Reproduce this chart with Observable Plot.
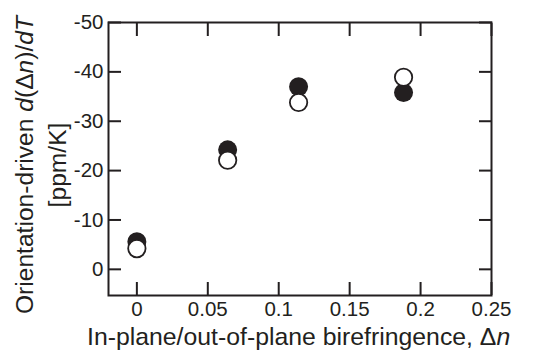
<!DOCTYPE html>
<html>
<head>
<meta charset="utf-8">
<script src="https://cdn.jsdelivr.net/npm/d3@7"></script>
<script src="https://cdn.jsdelivr.net/npm/@observablehq/plot@0.6"></script>
<style>
  body { margin: 0; background: #fff; }
  #wrap { position: relative; width: 536px; height: 354px; font-family: "Liberation Sans", Arial, sans-serif; color: #231f20; }
  #chart svg text { font-size: 20.5px !important; font-family: "Liberation Sans", Arial, sans-serif; }
  #xtitle { position: absolute; left: 87px; top: 325px; font-size: 24.8px; white-space: nowrap; line-height: 1; }
  #ytitle { position: absolute; left: 41px; top: 165px; width: 340px; transform: translate(-50%, -50%) rotate(-90deg); text-align: center; font-size: 24.6px; line-height: 33px; white-space: nowrap; }
</style>
</head>
<body>
<div id="wrap">
  <div id="chart"></div>
  <div id="xtitle">In-plane/out-of-plane birefringence, Δ<i>n</i></div>
  <div id="ytitle">Orientation-driven <i>d</i>(Δ<i>n</i>)/<i>dT</i><br>[ppm/K]</div>
</div>
<script>
const birefringence = [0, 0.064, 0.114, 0.188];
const filledValues = [-5.6, -24.2, -37.0, -35.8];
const openValues = [-4.2, -22.1, -33.8, -38.9];
const xTicks = [0, 0.05, 0.1, 0.15, 0.2, 0.25];
const xTickLabels = ["0", "0.05", "0.1", "0.15", "0.2", "0.25"];
const yTicks = [-50, -40, -30, -20, -10, 0];
const yTickLabels = ["-50", "-40", "-30", "-20", "-10", "0"];

const filled = birefringence.map((x, i) => ({x, y: filledValues[i]}));
const open = birefringence.map((x, i) => ({x, y: openValues[i]}));
const ink = "#231f20";
const xFmt = d => xTickLabels[xTicks.findIndex(t => Math.abs(t - d) < 1e-9)] ?? "";
const yFmt = d => yTickLabels[yTicks.indexOf(d)] ?? "";
const none = () => "";
const T = 13;

const chart = Plot.plot({
  width: 536,
  height: 354,
  marginLeft: 108,
  marginRight: 45,
  marginTop: 22,
  marginBottom: 59,
  style: {fontFamily: "'Liberation Sans', Arial, sans-serif", color: ink, background: "#fff"},
  x: {domain: [-0.02, 0.25]},
  y: {domain: [-50, 5.3], reverse: true},
  marks: [
    // labels
    Plot.axisX({ticks: xTicks, tickFormat: xFmt, tickSize: 0, tickPadding: 6, fill: ink, label: null}),
    Plot.axisY({ticks: yTicks, tickFormat: yFmt, tickSize: 0, tickPadding: 5, fill: ink, label: null}),
    // inward ticks
    Plot.axisX({ticks: xTicks, tickFormat: none, tickSize: T, dy: -T, strokeWidth: 2, stroke: ink, label: null}),
    Plot.axisX({anchor: "top", ticks: xTicks, tickFormat: none, tickSize: T, dy: T, strokeWidth: 2, stroke: ink, label: null}),
    Plot.axisY({ticks: yTicks, tickFormat: none, tickSize: T, dx: T, strokeWidth: 2, stroke: ink, label: null}),
    Plot.axisY({anchor: "right", ticks: yTicks, tickFormat: none, tickSize: T, dx: -T, strokeWidth: 2, stroke: ink, label: null}),
    Plot.frame({stroke: ink, strokeWidth: 2}),
    Plot.dot(filled, {x: "x", y: "y", r: 9.5, fill: ink, stroke: "none"}),
    Plot.dot(open, {x: "x", y: "y", r: 8.7, fill: "#fff", stroke: ink, strokeWidth: 1.8})
  ]
});
document.getElementById("chart").appendChild(chart);
</script>
</body>
</html>
